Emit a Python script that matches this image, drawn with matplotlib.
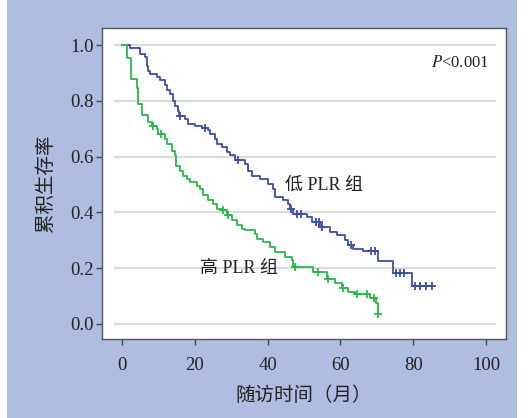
import numpy as np
import matplotlib.pyplot as plt
from matplotlib.patches import Rectangle

plt.rcParams['mathtext.fontset'] = 'stix'

# Kaplan-Meier curves: event times (months) and survival after each step
low_t = [0, 2.2, 4.9, 6.3, 6.8, 7.2, 7.7, 9.5, 10.4, 11.8, 12.3, 13.2, 14.1, 14.6, 15.5, 15.7,
         17.3, 18.2, 20.1, 21.9, 23.7, 24.2, 25.5, 26.0, 27.4, 28.8, 29.7, 31.0, 33.8, 34.7,
         35.6, 37.9, 40.2, 41.6, 42.0, 44.3, 45.7, 46.2, 47.0, 50.7, 52.1, 54.5, 57.1, 59.0,
         61.3, 62.2, 63.5, 66.2, 70.2, 74.5, 79.6, 85.2]
low_s = [1.0, 0.988, 0.968, 0.956, 0.926, 0.908, 0.896, 0.885, 0.873, 0.855, 0.837, 0.825,
         0.801, 0.783, 0.765, 0.745, 0.736, 0.718, 0.710, 0.703, 0.694, 0.681, 0.663, 0.645,
         0.633, 0.615, 0.604, 0.586, 0.574, 0.550, 0.532, 0.520, 0.503, 0.485, 0.455, 0.443,
         0.431, 0.413, 0.395, 0.383, 0.365, 0.348, 0.330, 0.318, 0.300, 0.282, 0.270, 0.262,
         0.225, 0.181, 0.136, 0.136]
low_cens = [16.0, 22.8, 32.0, 46.5, 48.0, 49.3, 53.2, 54.0, 55.0, 62.8, 68.5, 69.5,
            75.3, 76.4, 77.5, 80.5, 82.0, 83.5, 85.2]

high_t = [0, 1.5, 2.4, 4.2, 4.5, 5.4, 7.2, 8.2, 9.5, 10.0, 11.8, 12.3, 13.7, 14.6, 14.8,
          15.9, 16.8, 17.8, 18.7, 20.5, 21.4, 22.3, 23.7, 25.1, 26.0, 27.4, 28.8, 30.1, 31.5,
          32.9, 33.8, 36.5, 37.0, 38.8, 40.7, 42.0, 44.8, 46.6, 47.0, 52.6, 56.2, 58.5, 60.4,
          62.2, 64.0, 68.1, 69.9, 70.4]
high_s = [1.0, 0.952, 0.879, 0.845, 0.789, 0.750, 0.724, 0.710, 0.700, 0.680, 0.663, 0.645,
          0.621, 0.604, 0.568, 0.550, 0.532, 0.520, 0.508, 0.496, 0.485, 0.461, 0.443, 0.431,
          0.413, 0.407, 0.389, 0.371, 0.354, 0.342, 0.336, 0.324, 0.306, 0.294, 0.276, 0.258,
          0.240, 0.229, 0.203, 0.187, 0.160, 0.145, 0.128, 0.115, 0.107, 0.092, 0.074, 0.035]
high_cens = [8.6, 10.6, 27.8, 29.2, 47.5, 53.8, 56.5, 60.8, 64.5, 67.2, 69.1, 70.4]

xticks = [0, 20, 40, 60, 80, 100]
yticks = [0.0, 0.2, 0.4, 0.6, 0.8, 1.0]

blue = '#3d4fa3'
green = '#2db84b'
bg = '#aebde0'
serif = ['Liberation Serif', 'Noto Sans CJK SC']

fig = plt.figure(figsize=(5.31, 4.18), dpi=100, facecolor='white')
fig.patches.append(Rectangle((7/531, 0), 510/531, 1, transform=fig.transFigure,
                             facecolor=bg, edgecolor='none', zorder=-10))
ax = fig.add_axes([102/531, 1-339/418, 404/531, 311/418])
ax.set_facecolor('white')

for y in yticks:
    ax.axhline(y, xmin=0.032, xmax=0.973, color='#dcdcdc', lw=1.6, zorder=0)

def draw_km(t, s, cens, color):
    ax.step(t, s, where='post', color=color, lw=1.3, zorder=3)
    idx = np.searchsorted(t, cens, side='right') - 1
    ax.plot(cens, np.array(s)[idx], '+', color=color, ms=6, mew=1.3, zorder=4)

draw_km(low_t, low_s, low_cens, blue)
draw_km(high_t, high_s, high_cens, green)

ax.set_xlim(-5.5, 105.5)
ax.set_ylim(-0.054, 1.061)
ax.set_xticks(xticks)
ax.set_yticks(yticks)
ax.set_yticklabels(['%.1f' % v for v in yticks])
ax.tick_params(axis='both', direction='out', length=4, width=1, color='#444',
               labelcolor='#222', labelsize=13.5)
ax.tick_params(axis='x', pad=9)
ax.tick_params(axis='y', pad=2)
for lab in ax.get_xticklabels() + ax.get_yticklabels():
    lab.set_family(serif)
for sp in ax.spines.values():
    sp.set_color('#555')
    sp.set_linewidth(1.0)

ax.set_xlabel('随访时间（月）', family=serif, fontsize=14, color='#222', labelpad=9)
ax.set_ylabel('累积生存率', family=serif, fontsize=14, color='#222', labelpad=11)

ax.text(44.8, 0.496, '低 PLR 组', family=serif, fontsize=13, color='#222', va='center')
ax.text(21.4, 0.2, '高 PLR 组', family=serif, fontsize=13, color='#222', va='center')
ax.text(100.8, 0.937, '$\\mathit{P}$<0.001', family=serif, fontsize=12, color='#222',
        ha='right', va='center')

fig.savefig('out.png', dpi=100, facecolor=fig.get_facecolor())
